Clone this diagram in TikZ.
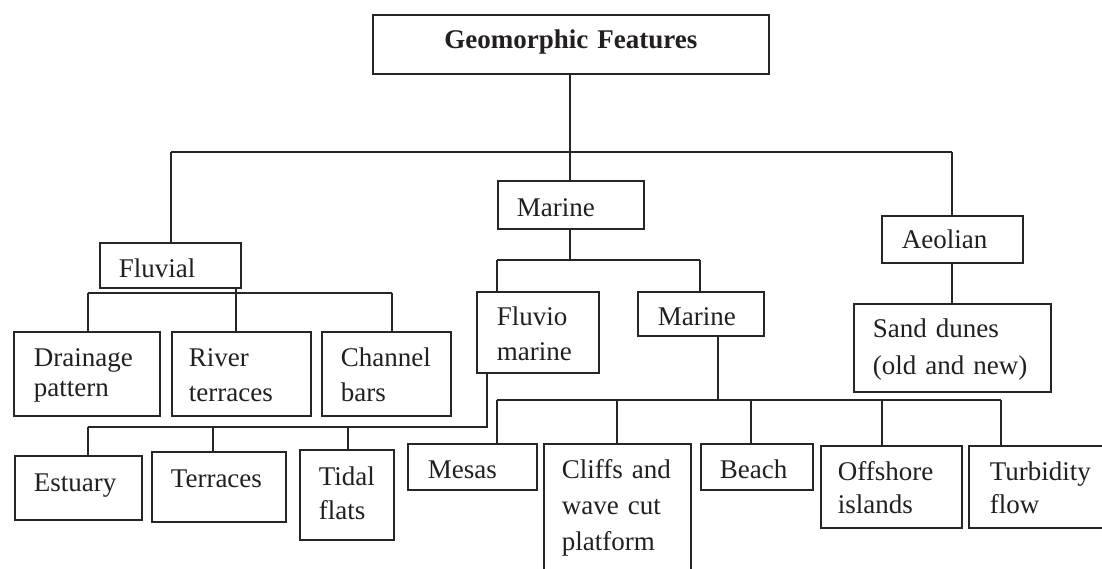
\documentclass[tikz,border=0pt]{standalone}
\usepackage{fontspec}
\setmainfont{Liberation Serif}
\definecolor{linec}{HTML}{262626}
\definecolor{textc}{HTML}{231F20}
\tikzset{
  bx/.style n args={4}{draw=linec, line width=1.8pt, anchor=north west,
    inner ysep=0pt, inner xsep=#2, text width=#1, text height=#3, text depth=#4,
    align=left, text=textc, font=\fontsize{27}{34}\selectfont},
  conn/.style={draw=linec, line width=1.8pt}
}
\begin{document}
\begin{tikzpicture}[x=1pt, y=-1pt]
\path[use as bounding box, fill=white] (0,0) rectangle (1102,569);

% level 0
\node[bx={376pt}{10pt}{34pt}{25pt}, align=center, font=\fontsize{27}{34}\selectfont\bfseries] (title) at (372,14) {Geomorphic Features};

% level 1
\node[bx={103pt}{19pt}{35pt}{10pt}] (fluvial) at (99,242) {Fluvial};
\node[bx={108pt}{19pt}{36pt}{12pt}] (marineA) at (497,180) {Marine};
\node[bx={101pt}{20pt}{33pt}{14pt}] (aeolian) at (881,215) {Aeolian};

% level 2
\node[bx={106pt}{20pt}{35pt}{49pt}, font=\fontsize{27}{30}\selectfont] (drainage) at (13,331) {Drainage\\pattern};
\node[bx={105pt}{17pt}{35pt}{49pt}, font=\fontsize{27}{35}\selectfont] (river) at (171,331) {River\\terraces};
\node[bx={91pt}{19pt}{35pt}{49pt}, font=\fontsize{27}{35}\selectfont] (channel) at (321,331) {Channel\\bars};
\node[bx={82pt}{20pt}{34pt}{47pt}, font=\fontsize{27}{35}\selectfont] (fluvio) at (476,291) {Fluvio\\marine};
\node[bx={86pt}{20pt}{34pt}{10pt}] (marineB) at (637,291) {Marine};
\node[bx={159pt}{19pt}{34pt}{54pt}, font=\fontsize{27}{37}\selectfont] (sand) at (853,303) {Sand~dunes\\(old~and~new)};

% level 3
\node[bx={89pt}{19pt}{36pt}{28pt}] (estuary) at (14,455) {Estuary};
\node[bx={96pt}{19pt}{36pt}{34pt}] (terraces) at (151,451) {Terraces};
\node[bx={56pt}{19pt}{36pt}{54pt}] (tidal) at (299,449) {Tidal\\flats};
\node[bx={89pt}{20pt}{35pt}{11pt}] (mesas) at (407,443) {Mesas};
\node[bx={111pt}{18pt}{35pt}{160pt}, font=\fontsize{27}{36}\selectfont] (cliffs) at (543,443) {Cliffs~and\\wave~cut\\platform};
\node[bx={74pt}{19pt}{35pt}{11pt}] (beach) at (700,443) {Beach};
\node[bx={107pt}{17pt}{35pt}{47pt}, font=\fontsize{27}{33}\selectfont] (offshore) at (820,445) {Offshore\\islands};
\node[bx={128pt}{21pt}{35pt}{47pt}, font=\fontsize{27}{33}\selectfont] (turbidity) at (968,445) {Turbidity\\flow};

% bus coordinates
\coordinate (b1l) at (171,152);
\coordinate (b1m) at (570,152);
\coordinate (b1r) at (952,152);
\coordinate (b2l) at (497,260);
\coordinate (b2m) at (570,260);
\coordinate (b2r) at (700,260);
\coordinate (b3l) at (88,293);
\coordinate (b3m) at (236,293);
\coordinate (b3r) at (392,293);
\coordinate (b4r) at (487,427);
\coordinate (b4a) at (88,427);
\coordinate (b4b) at (213,427);
\coordinate (b4c) at (348,427);
\coordinate (b5l) at (497,400);
\coordinate (b5m) at (718,400);
\coordinate (b5c) at (617,400);
\coordinate (b5b) at (751,400);
\coordinate (b5o) at (882,400);
\coordinate (b5r) at (1001,400);

% top level connectors
\draw[conn] (title.south -| b1m) -- (b1m);
\draw[conn] (b1l) -- (b1r);
\draw[conn] (b1l) -- (fluvial.north -| b1l);
\draw[conn] (b1m) -- (marineA.north -| b1m);
\draw[conn] (b1r) -- (aeolian.north -| b1r);

% marine (top) children
\draw[conn] (marineA.south -| b2m) -- (b2m);
\draw[conn] (b2l) -- (b2r);
\draw[conn] (b2l) -- (fluvio.north -| b2l);
\draw[conn] (b2r) -- (marineB.north -| b2r);

% aeolian child
\draw[conn] (aeolian.south -| b1r) -- (sand.north -| b1r);

% fluvial children
\draw[conn] (fluvial.south -| b3m) -- (b3m);
\draw[conn] (b3l) -- (b3r);
\draw[conn] (b3l) -- (drainage.north -| b3l);
\draw[conn] (b3m) -- (river.north -| b3m);
\draw[conn] (b3r) -- (channel.north -| b3r);

% fluvio marine children
\draw[conn] (fluvio.south -| b4r) -- (b4r) -- (b4a);
\draw[conn] (b4a) -- (estuary.north -| b4a);
\draw[conn] (b4b) -- (terraces.north -| b4b);
\draw[conn] (b4c) -- (tidal.north -| b4c);

% marine (lower) children
\draw[conn] (marineB.south -| b5m) -- (b5m);
\draw[conn] (b5l) -- (b5r);
\draw[conn] (b5l) -- (mesas.north -| b5l);
\draw[conn] (b5c) -- (cliffs.north -| b5c);
\draw[conn] (b5b) -- (beach.north -| b5b);
\draw[conn] (b5o) -- (offshore.north -| b5o);
\draw[conn] (b5r) -- (turbidity.north -| b5r);
\end{tikzpicture}
\end{document}
